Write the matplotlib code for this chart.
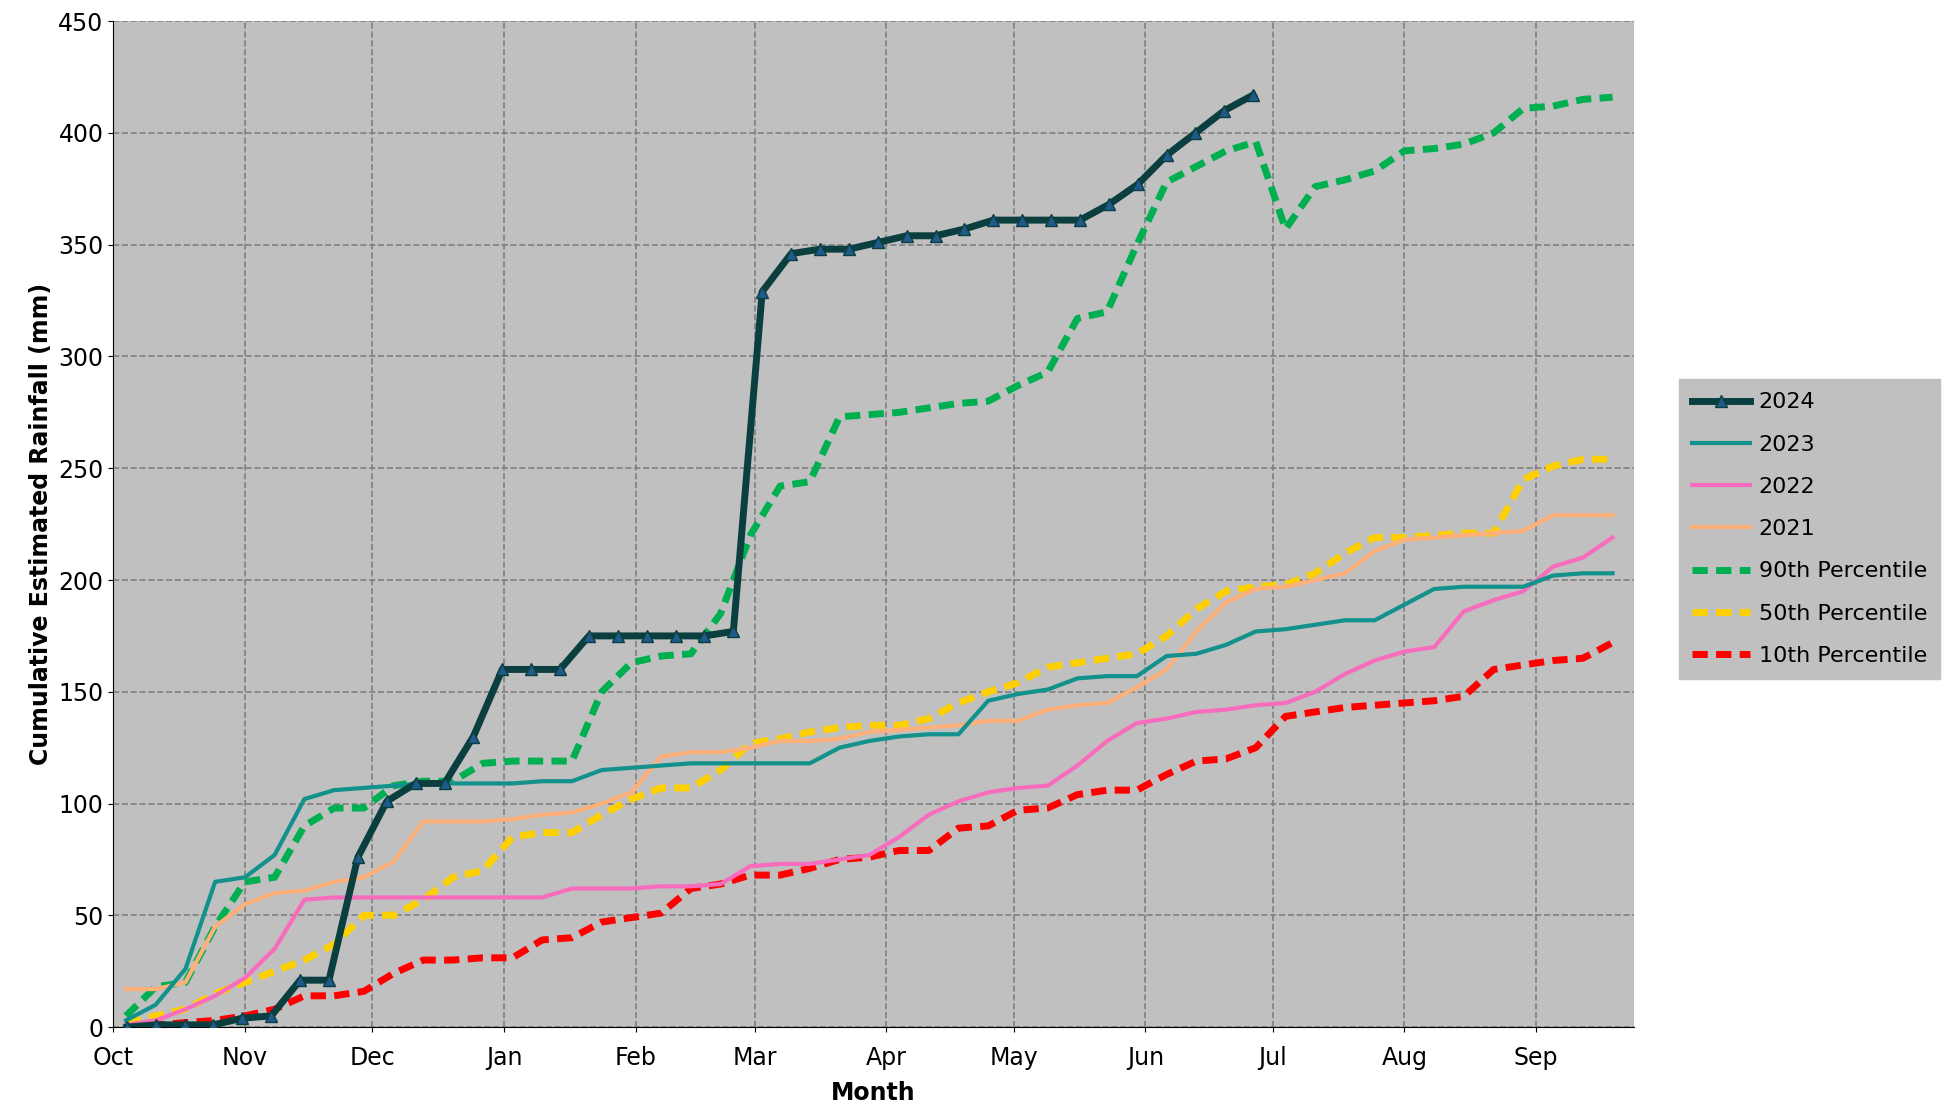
import numpy as np
from matplotlib import pyplot as plt

# month tick labels (days since 1 Oct)
months = ['Oct','Nov','Dec','Jan','Feb','Mar','Apr','May','Jun','Jul','Aug','Sep']
month_days = [0,31,61,92,123,151,182,212,243,273,304,335]

# cumulative rainfall (mm), weekly steps
r2024 = [0,1,1,1,4,5,21,21,76,101,109,109,130,160,160,160,175,175,175,175,175,177,
         329,346,348,348,351,354,354,357,361,361,361,361,368,377,390,400,410,417]
r2023 = [3,10,26,65,67,77,102,106,107,108,109,109,109,109,110,110,115,116,117,118,118,118,
         118,118,125,128,130,131,131,146,149,151,156,157,157,166,167,171,177,178,180,182,
         182,189,196,197,197,197,202,203,203]
r2022 = [1,3,8,14,22,35,57,58,58,58,58,58,58,58,58,62,62,62,63,63,64,72,73,73,75,77,85,
         95,101,105,107,108,117,128,136,138,141,142,144,145,150,158,164,168,170,186,191,
         195,206,210,219]
r2021 = [17,17,20,45,55,60,61,65,67,74,92,92,92,93,95,96,100,105,121,123,123,125,128,128,
         129,132,133,134,135,137,137,142,144,145,152,160,177,190,196,197,200,203,213,218,
         219,220,221,222,229,229,229]
p90 = [5,18,20,45,65,67,90,98,98,108,110,110,118,119,119,119,150,163,166,167,185,220,242,
       244,273,274,275,277,279,280,287,293,317,320,350,378,385,392,396,357,376,379,383,
       392,393,395,400,411,412,415,416]
p50 = [2,5,8,15,20,25,30,37,50,50,57,67,70,85,87,87,95,102,107,107,115,127,129,132,134,
       135,135,138,145,150,154,161,163,165,167,175,187,195,197,198,203,212,219,219,220,
       221,221,245,251,254,254]
p10 = [0,1,2,3,5,8,14,14,16,24,30,30,31,31,39,40,47,49,51,62,64,68,68,71,75,76,79,79,89,
       90,97,98,104,106,106,113,119,120,125,139,141,143,144,145,146,148,160,162,164,165,172]

d2024 = 3.2 + 6.8*np.arange(len(r2024))
d = 3.0 + 7.0*np.arange(len(r2023))

fig = plt.figure(figsize=(19.52,11.14), dpi=100)
ax = fig.add_axes([0.058,0.078,0.779,0.903])
ax.set_facecolor('#c0c0c0')

ax.plot(d, p90, color='#00b050', lw=5, ls=(0,(2.2,1.2)), label='90th Percentile', zorder=2)
ax.plot(d, p50, color='#ffd000', lw=5, ls=(0,(2.2,1.2)), label='50th Percentile', zorder=2)
ax.plot(d, p10, color='#ff0000', lw=5, ls=(0,(2.2,1.2)), label='10th Percentile', zorder=2)
ax.plot(d, r2021, color='#fdb07a', lw=3, label='2021', zorder=3)
ax.plot(d, r2022, color='#f76cbc', lw=3, label='2022', zorder=3)
ax.plot(d, r2023, color='#12918d', lw=3, label='2023', zorder=3)
ax.plot(d2024, r2024, color='#0b3f3f', lw=5, marker='^', ms=9, mfc='#1f5a8a', mec='#0b3f3f',
        label='2024', zorder=4)

ax.set_xlim(0, 358)
ax.set_ylim(0, 450)
ax.set_xticks(month_days)
ax.set_xticklabels(months, fontsize=17)
ax.set_yticks(range(0,451,50))
ax.tick_params(axis='y', labelsize=17)
ax.tick_params(axis='x', pad=10)
ax.grid(True, color='#808080', ls='--', lw=1.2)
ax.set_xlabel('Month', fontsize=17, fontweight='bold', labelpad=8)
ax.set_ylabel('Cumulative Estimated Rainfall (mm)', fontsize=17, fontweight='bold')
for s in ['top','right']:
    ax.spines[s].set_visible(False)

h, l = ax.get_legend_handles_labels()
order = ['2024','2023','2022','2021','90th Percentile','50th Percentile','10th Percentile']
hs = [h[l.index(o)] for o in order]
leg = fig.legend(hs, order, loc='center left', bbox_to_anchor=(0.86,0.525), fontsize=16,
                 frameon=True, fancybox=False, handlelength=2.6, handletextpad=0.4,
                 labelspacing=1.0, borderaxespad=0, borderpad=0.6)
leg.get_frame().set_facecolor('#c0c0c0')
leg.get_frame().set_edgecolor('#c0c0c0')
leg.get_frame().set_alpha(1)

plt.savefig('out.png')
